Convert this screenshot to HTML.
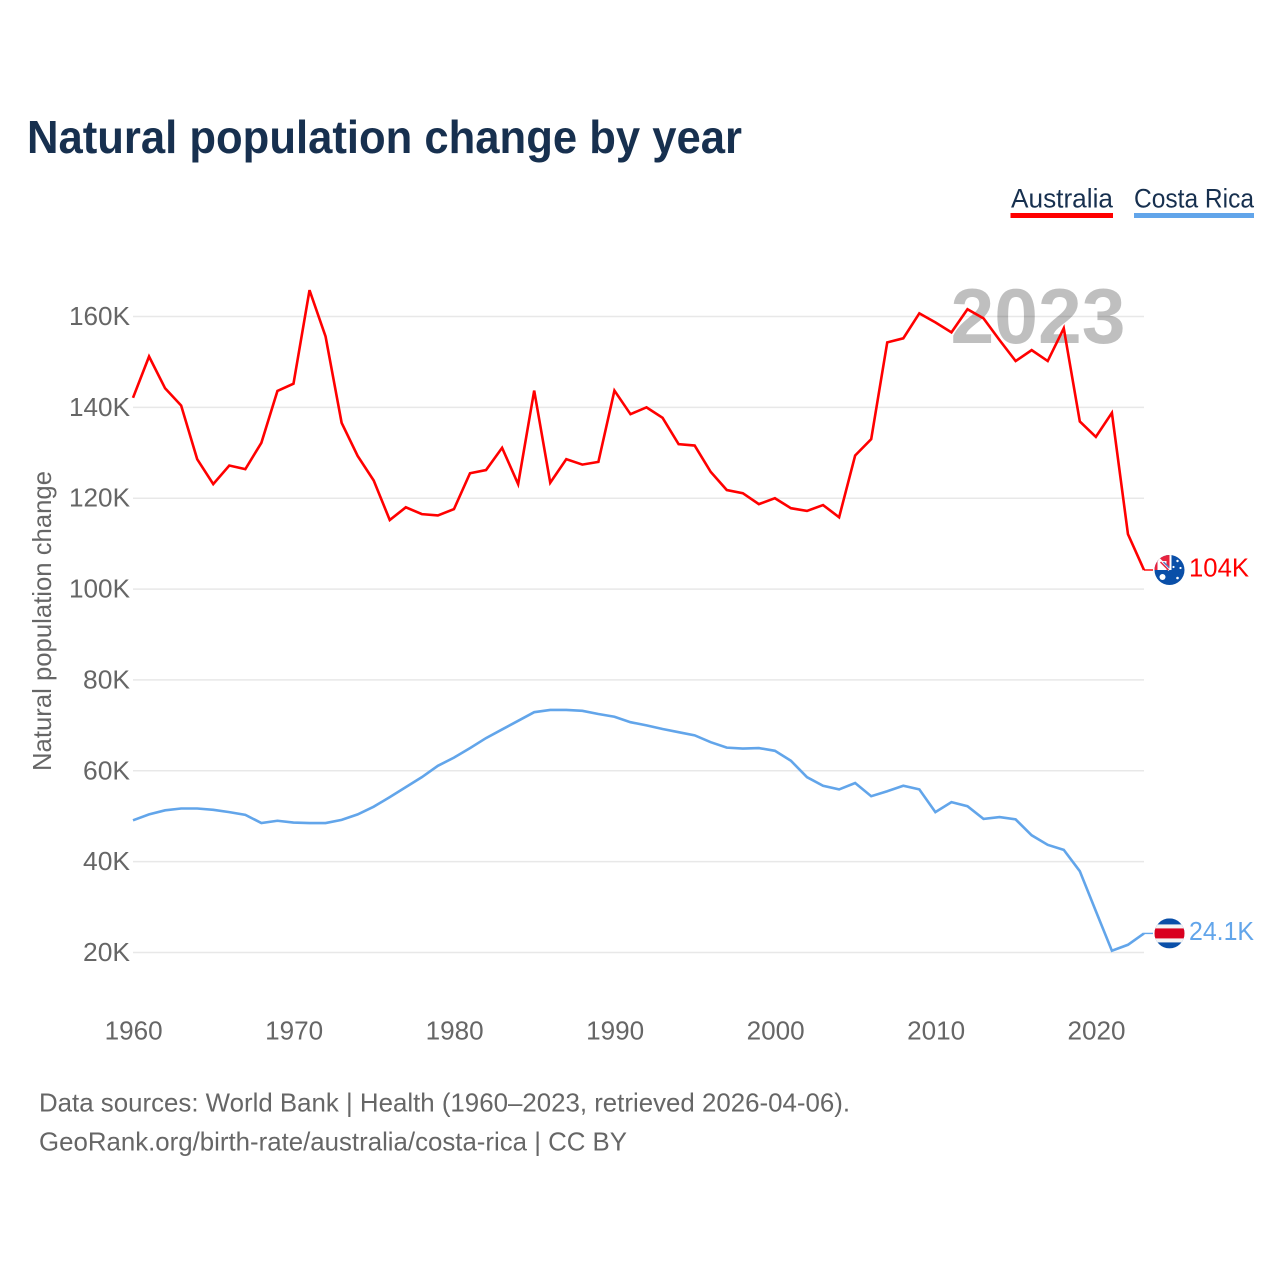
<!DOCTYPE html>
<html lang="en">
<head>
<meta charset="utf-8">
<title>Natural population change by year</title>
<style>
html,body{margin:0;padding:0;background:#fff}
svg{display:block;font-family:"Liberation Sans",sans-serif}
</style>
</head>
<body>
<svg id="chart" xmlns="http://www.w3.org/2000/svg" width="1280" height="1280" viewBox="0 0 1280 1280">
  <defs>
    <clipPath id="disc"><circle cx="0" cy="0" r="15"/></clipPath>
  </defs>
  <rect width="1280" height="1280" fill="#fff"/>
  <text x="27" y="153" font-size="46" font-weight="700" fill="#17304f" textLength="715" lengthAdjust="spacingAndGlyphs">Natural population change by year</text>

  <g>
    <text x="1011" y="207.5" font-size="26.5" fill="#17304f" textLength="102" lengthAdjust="spacingAndGlyphs">Australia</text>
    <rect x="1010.5" y="213" width="102.5" height="5" fill="#ff0000"/>
  </g>
  <g>
    <text x="1134" y="207.5" font-size="26.5" fill="#17304f" textLength="120" lengthAdjust="spacingAndGlyphs">Costa Rica</text>
    <rect x="1134" y="213" width="120" height="5" fill="#62a5ea"/>
  </g>

  <g id="grid"></g>
  <g id="yticks"></g>
  <g id="xticks"></g>

  <text transform="translate(51,621) rotate(-90)" text-anchor="middle" font-size="26" fill="#666" textLength="300" lengthAdjust="spacingAndGlyphs">Natural population change</text>

  <text x="1125.5" y="343" text-anchor="end" font-size="78" font-weight="700" fill="#000" fill-opacity="0.25" textLength="175" lengthAdjust="spacingAndGlyphs">2023</text>

  <g id="series"></g>

  <g id="flag-au">
    <g clip-path="url(#disc)">
      <rect x="-15" y="-15" width="30" height="30" fill="#0a4fa8"/>
      <rect x="-15" y="-15" width="15" height="15" fill="#e8233f"/>
      <path d="M-15,-15 L0,0" stroke="#fff" stroke-width="3"/>
      <rect x="-12" y="-9" width="9" height="9" fill="#fff"/>
      <path d="M-9,-8 L-1,0" stroke="#e8233f" stroke-width="1.5"/>
      <path d="M-6,-8 L0,-2" stroke="#5a78c2" stroke-width="1.5"/>
      <rect x="0" y="-15" width="2" height="15" fill="#fff"/>
      <circle cx="-7" cy="7" r="3" fill="#fff"/>
      <circle cx="8" cy="-9" r="1.2" fill="#fff"/>
      <circle cx="4" cy="-3" r="1.1" fill="#fff"/>
      <circle cx="11" cy="-2" r="1.1" fill="#fff"/>
      <circle cx="8" cy="8" r="1.3" fill="#fff"/>
    </g>
  </g>
  <g id="flag-cr">
    <g clip-path="url(#disc)">
      <rect x="-15" y="-15" width="30" height="30" fill="#0a4fa8"/>
      <rect x="-15" y="-9" width="30" height="18" fill="#f4f4f4"/>
      <rect x="-15" y="-5" width="30" height="10" fill="#d9001f"/>
    </g>
  </g>
  <g id="end-labels"></g>

  <text x="39" y="1111.5" font-size="26" fill="#666" textLength="811" lengthAdjust="spacingAndGlyphs">Data sources: World Bank | Health (1960–2023, retrieved 2026-04-06).</text>
  <text x="39" y="1150.5" font-size="26" fill="#666" textLength="588" lengthAdjust="spacingAndGlyphs">GeoRank.org/birth-rate/australia/costa-rica | CC BY</text>
</svg>
<script>
const years = [1960,1961,1962,1963,1964,1965,1966,1967,1968,1969,1970,1971,1972,1973,1974,1975,1976,1977,1978,1979,1980,1981,1982,1983,1984,1985,1986,1987,1988,1989,1990,1991,1992,1993,1994,1995,1996,1997,1998,1999,2000,2001,2002,2003,2004,2005,2006,2007,2008,2009,2010,2011,2012,2013,2014,2015,2016,2017,2018,2019,2020,2021,2022,2023];
const australia = [142.1,151.2,144.2,140.4,128.6,123.1,127.2,126.4,132.2,143.6,145.2,165.8,155.6,136.6,129.3,123.9,115.2,118.0,116.5,116.2,117.6,125.5,126.2,131.1,123.1,143.7,123.4,128.6,127.4,128.0,143.7,138.5,140.0,137.7,131.9,131.6,125.8,121.8,121.1,118.7,120.0,117.8,117.2,118.5,115.8,129.4,133.0,154.3,155.2,160.7,158.7,156.5,161.6,159.6,154.8,150.2,152.6,150.2,157.4,136.9,133.5,138.8,112.1,104.2];
const costaRica = [49.1,50.4,51.3,51.7,51.7,51.4,50.9,50.3,48.5,49.0,48.6,48.5,48.5,49.2,50.4,52.1,54.2,56.4,58.6,61.1,62.9,65.0,67.2,69.1,71.0,72.9,73.4,73.4,73.2,72.5,71.9,70.7,70.0,69.2,68.5,67.8,66.3,65.1,64.9,65.0,64.4,62.2,58.6,56.7,55.9,57.3,54.4,55.5,56.7,55.9,50.9,53.1,52.2,49.4,49.8,49.3,45.8,43.7,42.6,37.9,29.1,20.4,21.7,24.2];
const yTickValues = [20,40,60,80,100,120,140,160];
const yTickLabels = ["20K","40K","60K","80K","100K","120K","140K","160K"];
const xTickValues = [1960,1970,1980,1990,2000,2010,2020];
const xTickLabels = ["1960","1970","1980","1990","2000","2010","2020"];
const endLabels = ["104K","24.1K"];

const NS = "http://www.w3.org/2000/svg";
const xScale = function (year) { return 133 + (year - 1960) * (1144 - 133) / 63; };
const yScale = function (value) { return 952.5 - (value - 20) * (952.5 - 316.5) / 140; };
function make(tag, parentId, attrs) {
  const el = document.createElementNS(NS, tag);
  Object.keys(attrs).forEach(function (k) { el.setAttribute(k, attrs[k]); });
  document.getElementById(parentId).appendChild(el);
  return el;
}

yTickValues.forEach(function (v, i) {
  const y = yScale(v);
  const line = make("line", "grid", {x1: 133, x2: 1144, y1: y, y2: y, stroke: "#e8e8e8", "stroke-width": 1.5});
  
  
  const label = make("text", "yticks", {x: 130, y: y + 8.5, "text-anchor": "end", "font-size": 26, fill: "#666", textLength: yTickLabels[i].length === 4 ? 61 : 47, lengthAdjust: "spacingAndGlyphs"});
  label.textContent = yTickLabels[i];
  
  
});

xTickValues.forEach(function (v, i) {
  const label = make("text", "xticks", {x: xScale(v) + 0.7, y: 1039.5, "text-anchor": "middle", "font-size": 26, fill: "#666", textLength: 58, lengthAdjust: "spacingAndGlyphs"});
  label.textContent = xTickLabels[i];
  
  
});

function drawSeries(values, color, name) {
  const d = values.map(function (v, i) {
    return (i ? "L" : "M") + xScale(years[i]).toFixed(2) + "," + yScale(v).toFixed(2);
  }).join(" ");
  const path = make("path", "series", {d: d, fill: "none", stroke: color, "stroke-width": 2.6, "stroke-linejoin": "miter"});
  
  
  const lastY = yScale(values[values.length - 1]);
  const conn = make("line", "series", {x1: 1144, x2: 1153, y1: lastY, y2: lastY, stroke: color, "stroke-width": 1.4});
  
  
  return lastY;
}

const auY = drawSeries(australia, "#ff0000", "australia-line");
const crY = drawSeries(costaRica, "#62a5ea", "costa-rica-line");
document.getElementById("flag-au").setAttribute("transform", "translate(1169.5," + auY + ")");
document.getElementById("flag-cr").setAttribute("transform", "translate(1169.5," + crY + ")");

const auLabel = make("text", "end-labels", {x: 1189, y: auY + 6.5, "font-size": 26, fill: "#ff0000", textLength: 60, lengthAdjust: "spacingAndGlyphs"});
auLabel.textContent = endLabels[0];


const crLabel = make("text", "end-labels", {x: 1189, y: crY + 6.5, "font-size": 26, fill: "#62a5ea", textLength: 65, lengthAdjust: "spacingAndGlyphs"});
crLabel.textContent = endLabels[1];


</script>
</body>
</html>
